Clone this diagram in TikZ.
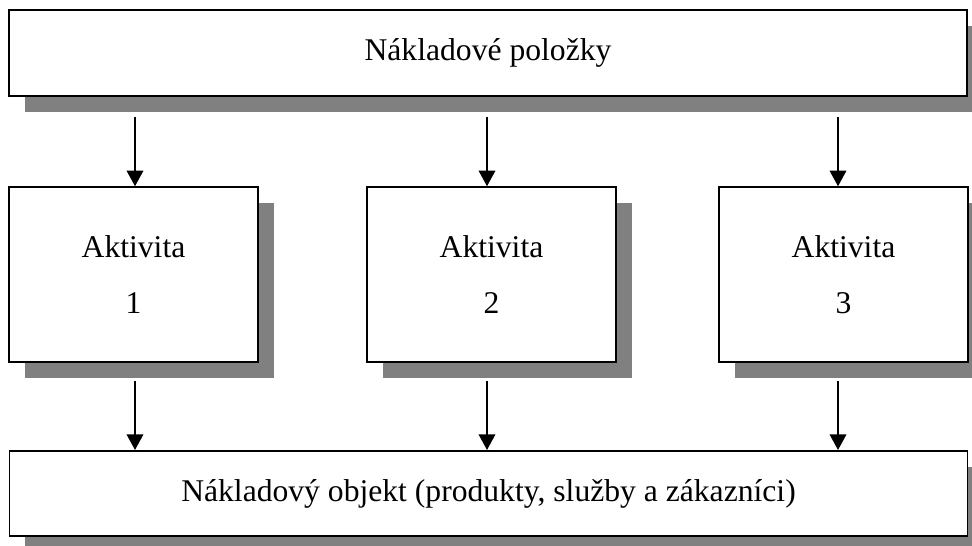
\documentclass[tikz,border=0pt]{standalone}
\usepackage{fontspec}
\setmainfont{Liberation Serif}
\usetikzlibrary{arrows.meta,shadows}
\begin{document}
\begin{tikzpicture}[x=0.02cm,y=-0.02cm,
  box/.style={draw,line width=0.9pt,fill=white,inner sep=0pt,align=center,
    font=\fontsize{18}{32}\selectfont,
    drop shadow={shadow xshift=0.32cm,shadow yshift=-0.32cm,fill=black!50,opacity=1}},
  wide/.style={box,minimum width=19.17cm,minimum height=1.71cm},
  akt/.style={box,minimum width=4.98cm,minimum height=3.5cm},
  arr/.style={-{Triangle[length=0.31cm,width=0.33cm]},line width=0.9pt}]
\useasboundingbox (0,0) rectangle (972,545);
% boxes
\node[wide] (naklady) at (488,53) {Nákladové položky};
\node[akt] (akt1) at (133.5,274.5) {Aktivita\\1};
\node[akt] (akt2) at (491.5,274.5) {Aktivita\\2};
\node[akt] (akt3) at (843.5,274.5) {Aktivita\\3};
\node[wide] (objekt) at (488.5,493.5) {Nákladový objekt (produkty, služby a zákazníci)};
% arrow columns
\coordinate (c1) at (135,0);
\coordinate (c2) at (487,0);
\coordinate (c3) at (838,0);
\foreach \i in {1,2,3}{
  \draw[arr] ([yshift=-0.4cm]naklady.south -| c\i) -- (akt\i.north -| c\i);
  \draw[arr] ([yshift=-0.36cm]akt\i.south -| c\i) -- (objekt.north -| c\i);
}
\end{tikzpicture}
\end{document}
